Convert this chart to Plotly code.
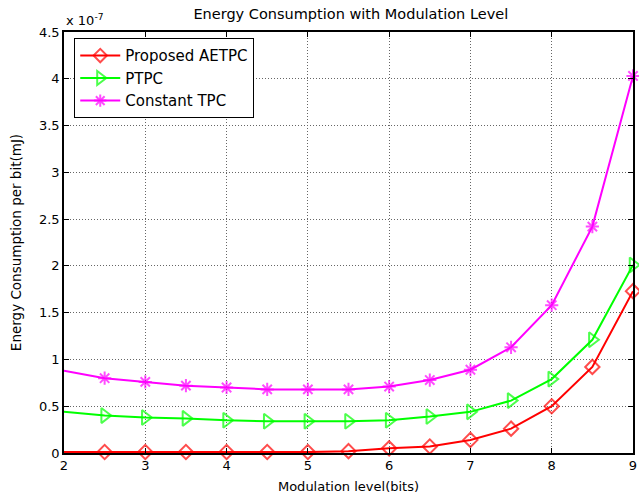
import plotly.graph_objects as go

x_bits = [2, 2.5, 3, 3.5, 4, 4.5, 5, 5.5, 6, 6.5, 7, 7.5, 8, 8.5, 9]
aetpc = [0.01, 0.01, 0.01, 0.01, 0.01, 0.01, 0.01, 0.02, 0.05, 0.07, 0.14, 0.26, 0.50, 0.92, 1.73]
ptpc = [0.44, 0.40, 0.38, 0.37, 0.35, 0.34, 0.34, 0.34, 0.35, 0.39, 0.44, 0.56, 0.79, 1.21, 2.01]
ctpc = [0.88, 0.80, 0.76, 0.72, 0.70, 0.68, 0.68, 0.68, 0.71, 0.78, 0.89, 1.13, 1.58, 2.42, 4.03]
y_ticks = [0, 0.5, 1, 1.5, 2, 2.5, 3, 3.5, 4, 4.5]
x_ticks = [2, 3, 4, 5, 6, 7, 8, 9]

FONT = "DejaVu Sans, Verdana, sans-serif"

def msizes(n, s):
    return [0] + [s] * (n - 1)

fig = go.Figure()
series = [
    ("Proposed AETPC", aetpc, "#ff0000", "diamond-open", 11),
    ("PTPC", ptpc, "#00ff00", "triangle-right-open", 13),
    ("Constant TPC", ctpc, "#ff00ff", "asterisk-open", 11),
]
for name, ys, col, sym, sz in series:
    fig.add_trace(go.Scatter(
        x=x_bits, y=ys, name=name, mode="lines+markers",
        line=dict(color=col, width=2),
        marker=dict(symbol=sym, size=msizes(len(ys), sz), color=col,
                    line=dict(color=col, width=2)),
        cliponaxis=False,
    ))

axis_common = dict(
    showline=True, linecolor="black", linewidth=1.5, mirror="ticks",
    ticks="inside", ticklen=5, tickcolor="black",
    showgrid=True, gridcolor="#666666", griddash="1px,2px", gridwidth=1,
    zeroline=False, tickfont=dict(family=FONT, size=13, color="black"),
)

fig.update_layout(
    width=639, height=499,
    margin=dict(l=64, r=2, t=32, b=46),
    paper_bgcolor="white", plot_bgcolor="white",
    title=dict(text="Energy Consumption with Modulation Level", x=0.549, xanchor="center",
               y=0.972, yanchor="middle",
               font=dict(family=FONT, size=14.5, color="black")),
    xaxis=dict(range=[2, 9], tickvals=x_ticks, ticklabeloverflow="allow", **axis_common,
               title=dict(text="Modulation level(bits)", standoff=10,
                          font=dict(family=FONT, size=13, color="black"))),
    yaxis=dict(range=[0, 4.5], tickvals=y_ticks, ticktext=[f"{v:g}" for v in y_ticks], **axis_common,
               title=dict(text="Energy Consumption per bit(mJ)", standoff=14,
                          font=dict(family=FONT, size=13.5, color="black"))),
    legend=dict(x=0.018, y=0.985, xanchor="left", yanchor="top",
                bgcolor="white", bordercolor="black", borderwidth=1,
                font=dict(family=FONT, size=15, color="black"),
                tracegroupgap=0, itemwidth=40),
    showlegend=True,
)
fig.add_annotation(text="x 10<sup>-7</sup>", xref="paper", yref="paper", x=0.0, y=1.0,
                   xanchor="left", yanchor="bottom", showarrow=False, yshift=2,
                   font=dict(family=FONT, size=13, color="black"))

fig.write_html("out.html")
